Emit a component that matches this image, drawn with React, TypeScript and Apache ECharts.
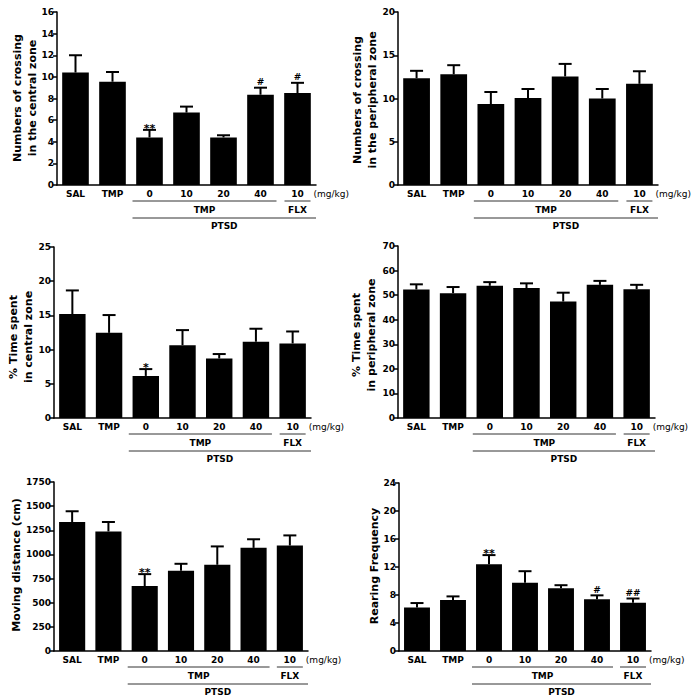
import React, { useEffect, useRef } from 'react';
import * as echarts from 'echarts';

// ---- Data ----
const categories = ['SAL', 'TMP', '0', '10', '20', '40', '10'];

const crossCentralMean = [10.4, 9.55, 4.4, 6.7, 4.4, 8.35, 8.5];
const crossCentralUpper = [12.0, 10.45, 5.1, 7.25, 4.6, 9.0, 9.45];
const crossCentralMarks = ['', '', '**', '', '', '#', '#'];

const crossPeriphMean = [12.35, 12.8, 9.35, 10.05, 12.55, 10.0, 11.7];
const crossPeriphUpper = [13.2, 13.85, 10.75, 11.1, 14.0, 11.1, 13.15];
const crossPeriphMarks = ['', '', '', '', '', '', ''];

const timeCentralMean = [15.2, 12.45, 6.15, 10.65, 8.7, 11.15, 10.9];
const timeCentralUpper = [18.65, 15.05, 7.15, 12.85, 9.35, 13.05, 12.65];
const timeCentralMarks = ['', '', '*', '', '', '', ''];

const timePeriphMean = [52.3, 50.8, 53.8, 52.9, 47.4, 54.2, 52.4];
const timePeriphUpper = [54.4, 53.3, 55.3, 54.8, 51.0, 55.8, 54.2];
const timePeriphMarks = ['', '', '', '', '', '', ''];

const distanceMean = [1336, 1238, 672, 830, 893, 1068, 1092];
const distanceUpper = [1447, 1336, 796, 903, 1083, 1157, 1197];
const distanceMarks = ['', '', '**', '', '', '', ''];

const rearingMean = [6.2, 7.3, 12.4, 9.75, 8.95, 7.4, 6.9];
const rearingUpper = [6.85, 7.8, 13.7, 11.4, 9.4, 7.95, 7.5];
const rearingMarks = ['', '', '**', '', '', '#', '##'];

const yMaxes = [16, 20, 25, 70, 1750, 24];
const yIntervals = [2, 5, 5, 10, 250, 4];
const yTitles = [
  'Numbers of crossing\nin the central zone',
  'Numbers of crossing\nin the peripheral zone',
  '% Time spent\nin central zone',
  '% Time spent\nin peripheral zone',
  'Moving distance (cm)',
  'Rearing Frequency',
];

const groupTMP = 'TMP';
const groupFLX = 'FLX';
const groupPTSD = 'PTSD';
const doseUnit = '(mg/kg)';

// ---- Layout ----
const GRIDS = [
  { left: 57, top: 12, width: 259, height: 173 },
  { left: 398, top: 12, width: 260, height: 173 },
  { left: 54, top: 247, width: 257, height: 171 },
  { left: 398, top: 246, width: 257, height: 172 },
  { left: 54, top: 482, width: 254, height: 169 },
  { left: 399, top: 483, width: 252, height: 168 },
];
const TITLE_POS = [
  { x: 24.5, y: 98 },
  { x: 364.5, y: 100 },
  { x: 21, y: 337 },
  { x: 363.5, y: 335 },
  { x: 16, y: 565 },
  { x: 374, y: 566 },
];

const FONT = '"DejaVu Sans", Verdana, sans-serif';

export default function App() {
  const ref = useRef<HTMLDivElement>(null);

  useEffect(() => {
    if (!ref.current) return;
    const chart = echarts.init(ref.current, null, { renderer: 'svg' });

    const means = [crossCentralMean, crossPeriphMean, timeCentralMean, timePeriphMean, distanceMean, rearingMean];
    const uppers = [crossCentralUpper, crossPeriphUpper, timeCentralUpper, timePeriphUpper, distanceUpper, rearingUpper];
    const marks = [crossCentralMarks, crossPeriphMarks, timeCentralMarks, timePeriphMarks, distanceMarks, rearingMarks];

    const grid = GRIDS.map((g) => ({ ...g, containLabel: false }));
    const xAxis = GRIDS.map((_, i) => ({
      type: 'category',
      gridIndex: i,
      data: categories,
      axisLine: { show: true, lineStyle: { color: '#000', width: 1.5 } },
      axisTick: { show: false },
      axisLabel: { color: '#000', fontSize: 9, fontWeight: 'bold', margin: 4, interval: 0, fontFamily: FONT },
    }));
    const yAxis = GRIDS.map((_, i) => ({
      type: 'value',
      gridIndex: i,
      min: 0,
      max: yMaxes[i],
      interval: yIntervals[i],
      axisLine: { show: true, lineStyle: { color: '#000', width: 1.5 } },
      axisTick: { show: true, length: 4, lineStyle: { color: '#000', width: 1.5 } },
      splitLine: { show: false },
      axisLabel: {
        color: '#000',
        fontSize: 9,
        fontWeight: 'bold',
        margin: 3,
        fontFamily: FONT,
        formatter: (v: number) => String(v),
      },
    }));

    const series: any[] = [];
    GRIDS.forEach((_, i) => {
      series.push({
        type: 'bar',
        xAxisIndex: i,
        yAxisIndex: i,
        data: means[i],
        barWidth: '72%',
        itemStyle: { color: '#000' },
        silent: true,
      });
      series.push({
        type: 'custom',
        xAxisIndex: i,
        yAxisIndex: i,
        data: means[i].map((v, k) => [k, v, uppers[i][k]]),
        encode: { x: 0, y: [1, 2] },
        silent: true,
        itemStyle: { color: '#000' },
        renderItem: (params: any, api: any) => {
          const idx = api.value(0);
          const p0 = api.coord([idx, api.value(1)]);
          const p1 = api.coord([idx, api.value(2)]);
          const hw = 6.5;
          return {
            type: 'group',
            children: [
              { type: 'line', shape: { x1: p0[0], y1: p0[1], x2: p1[0], y2: p1[1] }, style: { stroke: '#000', lineWidth: 2 } },
              { type: 'line', shape: { x1: p1[0] - hw, y1: p1[1], x2: p1[0] + hw, y2: p1[1] }, style: { stroke: '#000', lineWidth: 2 } },
            ],
          };
        },
      });
    });

    chart.setOption({
      animation: false,
      backgroundColor: '#fff',
      color: ['#000'],
      textStyle: { fontFamily: FONT },
      grid,
      xAxis,
      yAxis,
      series,
    });

    // Annotations derived from the axes
    const graphics: any[] = [];
    const lineStyle = { stroke: '#333', lineWidth: 1 };
    const txt = (x: number, y: number, text: string, align: string, weight = 'bold', size = 9, vAlign = 'middle') => ({
      type: 'text',
      x,
      y,
      style: { text, align, verticalAlign: vAlign, fontSize: size, fontWeight: weight, fontFamily: FONT, fill: '#000' },
    });
    GRIDS.forEach((g, i) => {
      const x0 = chart.convertToPixel({ xAxisIndex: i } as any, 2) as unknown as number;
      const x40 = chart.convertToPixel({ xAxisIndex: i } as any, 5) as unknown as number;
      const xF = chart.convertToPixel({ xAxisIndex: i } as any, 6) as unknown as number;
      const y0 = chart.convertToPixel({ yAxisIndex: i } as any, 0) as unknown as number;
      const right = g.left + g.width;
      const tStart = x0 - 17;
      const tEnd = x40 + 16;
      graphics.push({ type: 'line', shape: { x1: tStart, y1: y0 + 16, x2: tEnd, y2: y0 + 16 }, style: lineStyle });
      graphics.push({ type: 'line', shape: { x1: xF - 13, y1: y0 + 16, x2: xF + 13, y2: y0 + 16 }, style: lineStyle });
      graphics.push({ type: 'line', shape: { x1: tStart, y1: y0 + 33, x2: right, y2: y0 + 33 }, style: lineStyle });
      graphics.push(txt((tStart + tEnd) / 2, y0 + 24.5, groupTMP, 'center'));
      graphics.push(txt(xF, y0 + 24.5, groupFLX, 'center'));
      graphics.push(txt((tStart + right) / 2, y0 + 41, groupPTSD, 'center'));
      graphics.push(txt(xF + 16, y0 + 9, doseUnit, 'left', 'normal'));

      // significance markers above the error bars
      marks[i].forEach((m, k) => {
        if (!m) return;
        const p = chart.convertToPixel({ gridIndex: i } as any, [k, uppers[i][k]]) as unknown as number[];
        const isStar = m.indexOf('*') >= 0;
        graphics.push(txt(p[0], p[1] - 1 + (isStar ? 5 : 0), m, 'center', 'bold', isStar ? 11 : 9, 'bottom'));
      });

      graphics.push({
        type: 'text',
        x: TITLE_POS[i].x,
        y: TITLE_POS[i].y,
        rotation: Math.PI / 2,
        style: {
          text: yTitles[i],
          align: 'center',
          verticalAlign: 'middle',
          fontSize: 11,
          fontWeight: 'bold',
          fontFamily: FONT,
          lineHeight: 15,
          fill: '#000',
        },
      });
    });
    chart.setOption({ graphic: graphics });

    return () => chart.dispose();
  }, []);

  return <div ref={ref} style={{ position: 'absolute', left: 0, top: 0, width: 694, height: 697 }} />;
}
